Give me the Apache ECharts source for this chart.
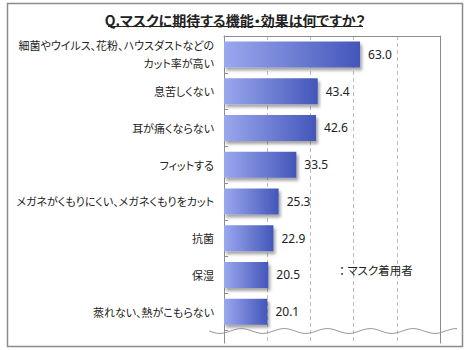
<!DOCTYPE html>
<html>
<head>
<meta charset="utf-8">
<script src="https://cdn.jsdelivr.net/npm/echarts@6/dist/echarts.min.js"></script>
<style>
  html, body { margin: 0; padding: 0; background: #fff; }
  #chart { width: 470px; height: 350px; }
  /* proportional kana widths for Japanese labels */
  #chart text { font-feature-settings: "palt"; }
</style>
</head>
<body>
<div id="chart"></div>
<script>
// Survey question, series name and answers
const titleText = 'Q.マスクに期待する機能・効果は何ですか？';
const seriesName = 'マスク着用者';
const categories = [
  '細菌やウイルス、花粉、ハウスダストなどの\nカット率が高い',
  '息苦しくない',
  '耳が痛くならない',
  'フィットする',
  'メガネがくもりにくい、メガネくもりをカット',
  '抗菌',
  '保湿',
  '蒸れない、熱がこもらない'
];
const values = [63.0, 43.4, 42.6, 33.5, 25.3, 22.9, 20.5, 20.1];
// percentage axis
const axisMin = 0;
const axisMax = 100;
const axisStep = 20;

const JP = '"Noto Sans CJK JP", "Noto Sans", sans-serif';
const frameColor = '#8c8c8c';
const gridColor = '#bdbdbd';

// wavy "axis break" line across the bottom of the plot
const wavePts = [];
for (let x = 209; x <= 457; x += 1) {
  wavePts.push([x, 331 + 2.4 * Math.sin((x - 209) / 43 * 2 * Math.PI)]);
}

const chart = echarts.init(document.getElementById('chart'), null, { renderer: 'svg' });

const valueAxisCommon = {
  type: 'value', min: axisMin, max: axisMax, interval: axisStep,
  axisTick: { show: false }, axisLabel: { show: false },
  splitLine: { show: true, lineStyle: { color: gridColor, type: [4, 3], width: 1 } }
};

chart.setOption({
  animation: false,
  backgroundColor: '#fff',
  title: {
    text: titleText,
    left: 'center',
    top: 8,
    textStyle: { fontFamily: JP, fontSize: 14, fontWeight: 'bold', color: '#222' }
  },
  legend: {
    data: [seriesName],
    left: 329,
    top: 259,
    itemWidth: 0,
    itemHeight: 0,
    selectedMode: false,
    formatter: '： {name}',
    textStyle: { fontFamily: JP, fontSize: 11.5, color: '#222' }
  },
  grid: [
    { left: 224, right: 30, top: 36, height: 294, containLabel: false, outerBoundsMode: 'none' },
    { left: 224, right: 30, top: 330, height: 13, containLabel: false, outerBoundsMode: 'none' }
  ],
  xAxis: [
    Object.assign({}, valueAxisCommon, {
      gridIndex: 0, position: 'top',
      axisLine: { show: true, onZero: false, lineStyle: { color: frameColor, width: 1 } }
    }),
    Object.assign({}, valueAxisCommon, {
      gridIndex: 1, axisLine: { show: false }
    })
  ],
  yAxis: [
    {
      gridIndex: 0, type: 'category', inverse: true, data: categories,
      axisLine: { show: true, onZero: false, lineStyle: { color: frameColor, width: 1 } },
      axisTick: { show: true, inside: true, length: 4, lineStyle: { color: frameColor } },
      axisLabel: {
        margin: 10, fontFamily: JP, fontSize: 11, color: '#222',
        lineHeight: 18, align: 'right'
      },
      splitLine: { show: false }
    },
    {
      gridIndex: 0, type: 'category', inverse: true, data: categories, position: 'right',
      axisLine: { show: true, onZero: false, lineStyle: { color: frameColor, width: 1 } },
      axisTick: { show: false }, axisLabel: { show: false }, splitLine: { show: false }
    },
    {
      gridIndex: 1, type: 'value', min: 0, max: 1,
      axisLine: { show: true, onZero: false, lineStyle: { color: frameColor, width: 1 } },
      axisTick: { show: false }, axisLabel: { show: false }, splitLine: { show: false }
    },
    {
      gridIndex: 1, type: 'value', min: 0, max: 1, position: 'right',
      axisLine: { show: true, onZero: false, lineStyle: { color: frameColor, width: 1 } },
      axisTick: { show: false }, axisLabel: { show: false }, splitLine: { show: false }
    }
  ],
  series: [
    {
      name: seriesName,
      type: 'bar',
      xAxisIndex: 0,
      yAxisIndex: 0,
      data: values,
      barWidth: 26,
      itemStyle: {
        color: new echarts.graphic.LinearGradient(0, 0, 1, 0, [
          { offset: 0, color: '#9aa8ee' },
          { offset: 1, color: '#4456ba' }
        ]),
        shadowColor: 'rgba(0,0,0,0.35)',
        shadowBlur: 3,
        shadowOffsetX: 2,
        shadowOffsetY: 3
      },
      label: {
        show: true,
        position: 'right',
        distance: 8,
        formatter: p => p.value.toFixed(1),
        fontFamily: '"Noto Sans", sans-serif',
        fontSize: 12,
        color: '#222'
      }
    }
  ],
  graphic: [
    {
      type: 'rect', silent: true, z: 100,
      shape: { x: 7.5, y: 3.5, width: 455, height: 343 },
      style: { fill: 'none', stroke: frameColor, lineWidth: 1.5 }
    },
    {
      type: 'line', silent: true, z: 100,
      shape: { x1: 108, y1: 26.5, x2: 363, y2: 26.5 },
      style: { stroke: '#222', lineWidth: 1.2 }
    },
    {
      type: 'polyline', silent: true, z: 100,
      shape: { points: wavePts },
      style: { fill: 'none', stroke: '#9a9a9a', lineWidth: 1 }
    }
  ]
});
</script>
</body>
</html>
